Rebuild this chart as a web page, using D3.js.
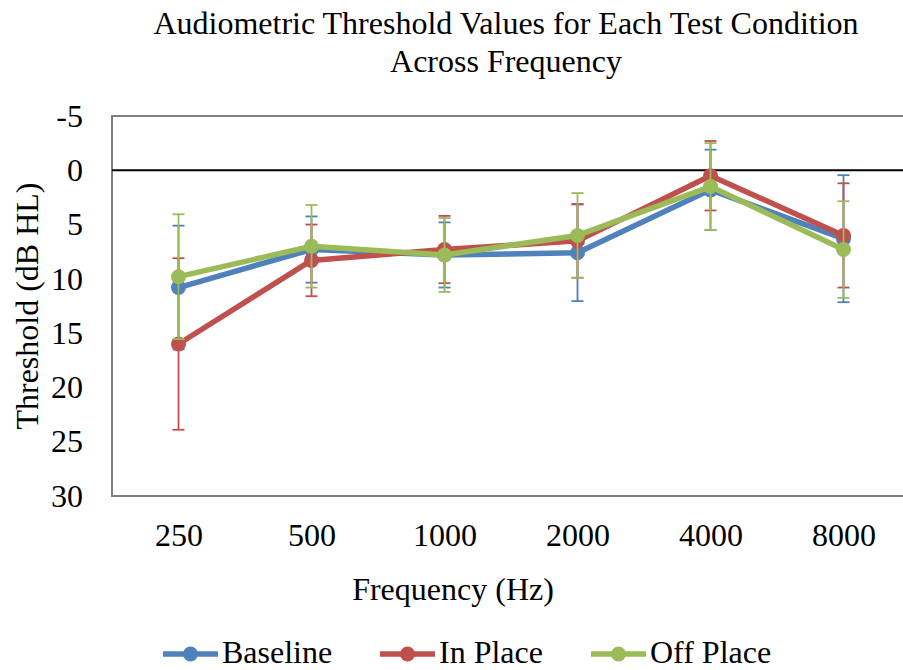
<!DOCTYPE html>
<html>
<head>
<meta charset="utf-8">
<script src="https://cdn.jsdelivr.net/npm/d3@7"></script>
<style>
  body { margin: 0; background: #fff; }
  text { font-family: "Liberation Serif", "Times New Roman", serif; fill: #000; }
</style>
</head>
<body>
<svg id="chart"></svg>
<script>
// Frequencies (Hz) on the x axis
const freqs = ["250", "500", "1000", "2000", "4000", "8000"];

// Mean thresholds (dB HL) per condition
const baseline = [10.8, 7.3, 7.8, 7.6, 1.8, 6.3];
const inPlace  = [16.0, 8.3, 7.3, 6.5, 0.5, 6.0];
const offPlace = [9.8, 7.0, 7.8, 6.0, 1.5, 7.3];

// Error bar half-widths (dB)
const baselineErr = [5.7, 3.05, 3.0, 4.45, 3.7, 5.85];
const inPlaceErr  = [7.9, 3.3, 3.1, 3.4, 3.2, 4.8];
const offPlaceErr = [5.75, 3.8, 3.4, 3.9, 4.0, 4.45];

const yTicks = [-5, 0, 5, 10, 15, 20, 25, 30];

const series = [
    { name: "Baseline",  values: baseline, err: baselineErr, color: "#4f81bd" },
    { name: "In Place",  values: inPlace,  err: inPlaceErr,  color: "#c0504d" },
    { name: "Off Place", values: offPlace, err: offPlaceErr, color: "#9bbb59" }
];

const width = 903, height = 670;
const plot = { left: 112, right: 910, top: 116, bottom: 496 };

const svg = d3.select("#chart")
    .attr("width", width)
    .attr("height", height);

// Scales
const x = d3.scalePoint()
    .domain(freqs)
    .range([plot.left, plot.right])
    .padding(0.5);

const y = d3.scaleLinear()
    .domain([-5, 30])
    .range([plot.top, plot.bottom]);

// Plot frame (right side falls off the page)
svg.append("path")
    .attr("d", `M${plot.right},${plot.top}H${plot.left}V${plot.bottom}H${plot.right}`)
    .attr("fill", "none")
    .attr("stroke", "#7f7f7f")
    .attr("stroke-width", 2);

// Zero line
svg.append("line")
    .attr("x1", plot.left).attr("x2", plot.right)
    .attr("y1", y(0)).attr("y2", y(0))
    .attr("stroke", "#000")
    .attr("stroke-width", 2);

// Y axis
const yAxis = svg.append("g")
    .attr("transform", `translate(${plot.left},0)`)
    .call(d3.axisLeft(y).tickValues(yTicks).tickFormat(d => String(d)).tickSize(0).tickPadding(29));
yAxis.select(".domain").remove();
yAxis.selectAll("text")
    .style("font-family", "Liberation Serif, serif")
    .style("font-size", "32px")
    .attr("fill", "#000");

// X axis
const xAxis = svg.append("g")
    .attr("transform", `translate(0,${plot.bottom})`)
    .call(d3.axisBottom(x).tickSize(0).tickPadding(27));
xAxis.select(".domain").remove();
xAxis.selectAll("text")
    .style("font-family", "Liberation Serif, serif")
    .style("font-size", "32px")
    .attr("fill", "#000");

// Series: error bars, line, markers
const line = d3.line()
    .x((d, i) => x(freqs[i]))
    .y(d => y(d));

const capHalf = 6;
series.forEach(s => {
    const g = svg.append("g");
    s.values.forEach((v, i) => {
        const cx = x(freqs[i]);
        const lo = y(v - s.err[i]), hi = y(v + s.err[i]);
        g.append("line")
            .attr("x1", cx).attr("x2", cx)
            .attr("y1", lo).attr("y2", hi)
            .attr("stroke", s.color).attr("stroke-width", 1.8);
        [lo, hi].forEach(yy => {
            g.append("line")
                .attr("x1", cx - capHalf).attr("x2", cx + capHalf)
                .attr("y1", yy).attr("y2", yy)
                .attr("stroke", s.color).attr("stroke-width", 1.8);
        });
    });
    g.append("path")
        .datum(s.values)
        .attr("d", line)
        .attr("fill", "none")
        .attr("stroke", s.color)
        .attr("stroke-width", 5.5)
        .attr("stroke-linejoin", "round");
    g.selectAll("circle")
        .data(s.values)
        .enter().append("circle")
        .attr("cx", (d, i) => x(freqs[i]))
        .attr("cy", d => y(d))
        .attr("r", 7.5)
        .attr("fill", s.color);
});

// Title
const title = svg.append("text")
    .attr("text-anchor", "middle")
    .style("font-size", "32px");
title.append("tspan").attr("x", 506).attr("y", 34)
    .text("Audiometric Threshold Values for Each Test Condition");
title.append("tspan").attr("x", 506).attr("y", 72)
    .text("Across Frequency");

// Axis titles
svg.append("text")
    .attr("transform", "translate(38,306) rotate(-90)")
    .attr("text-anchor", "middle")
    .style("font-size", "32px")
    .text("Threshold (dB HL)");

svg.append("text")
    .attr("x", 453)
    .attr("y", 600)
    .attr("text-anchor", "middle")
    .style("font-size", "32px")
    .text("Frequency (Hz)");

// Legend
const legendX = [163, 380, 591];
series.forEach((s, i) => {
    const lg = svg.append("g").attr("transform", `translate(${legendX[i]},654)`);
    lg.append("line")
        .attr("x1", 0).attr("x2", 55)
        .attr("stroke", s.color).attr("stroke-width", 5.5);
    lg.append("circle")
        .attr("cx", 27.5).attr("r", 7.5)
        .attr("fill", s.color);
    lg.append("text")
        .attr("x", 59)
        .attr("y", 9)
        .style("font-size", "32px")
        .text(s.name);
});
</script>
</body>
</html>
